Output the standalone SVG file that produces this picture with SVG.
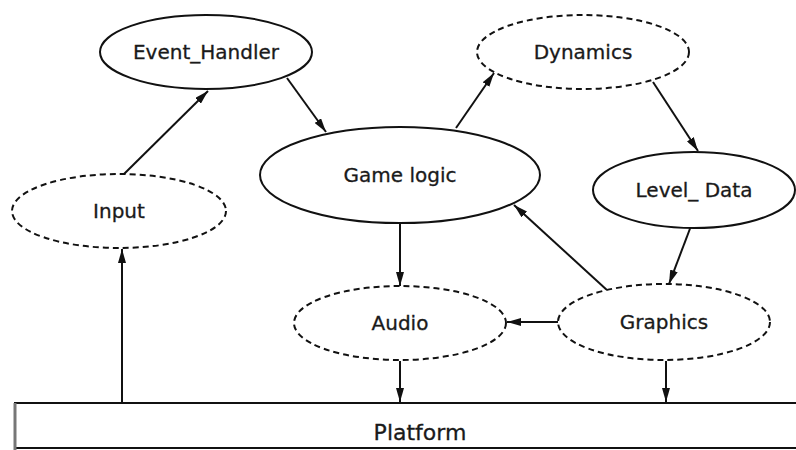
<svg xmlns="http://www.w3.org/2000/svg" width="796" height="450" viewBox="0 0 796 450">
<style>
.n{fill:#fff;stroke:#111;stroke-width:2}
.d{stroke-dasharray:6 4}
.t{font-family:"DejaVu Sans","Liberation Sans",sans-serif;font-size:20px;fill:#1a1a1a;text-anchor:middle;stroke:#1a1a1a;stroke-width:0.3}
.c{stroke:#111;stroke-width:2;fill:none;marker-end:url(#a)}
</style>
<defs>
<marker id="a" markerWidth="14" markerHeight="8" refX="14" refY="4" orient="auto" markerUnits="userSpaceOnUse" viewBox="0 0 14 8">
<path d="M0,0 L14,4 L0,8 Z" fill="#111"/>
</marker>
</defs>
<rect width="796" height="450" fill="#fff"/>
<g id="connectors">
<line class="c" x1="123" y1="175" x2="208" y2="91"/>
<line class="c" x1="287" y1="78" x2="326" y2="132"/>
<line class="c" x1="456" y1="128" x2="494" y2="73"/>
<line class="c" x1="653" y1="82" x2="698" y2="151"/>
<line class="c" x1="691" y1="226" x2="669" y2="284"/>
<line class="c" x1="608" y1="291" x2="514" y2="205"/>
<line class="c" x1="558" y1="322" x2="507" y2="322"/>
<line class="c" x1="400" y1="223" x2="400" y2="286"/>
<line class="c" x1="400" y1="361" x2="400" y2="402"/>
<line class="c" x1="666" y1="361" x2="666" y2="402"/>
<line class="c" x1="122" y1="403" x2="122" y2="249"/>
</g>
<g id="platform">
<rect class="n" x="15" y="403" width="790" height="45"/>
<line x1="15" y1="403" x2="15" y2="450" stroke="#777" stroke-width="3"/>
<text class="t" x="420" y="440" style="font-size:22px">Platform</text>
</g>
<g id="event_handler">
<ellipse class="n" cx="206" cy="52" rx="106" ry="37"/>
<text class="t" x="206" y="59">Event_Handler</text>
</g>
<g id="input">
<ellipse class="n d" cx="119" cy="211" rx="107" ry="37"/>
<text class="t" x="119" y="218">Input</text>
</g>
<g id="game_logic">
<ellipse class="n" cx="400" cy="175" rx="140" ry="48"/>
<text class="t" x="400" y="182">Game logic</text>
</g>
<g id="dynamics">
<ellipse class="n d" cx="583" cy="52" rx="106" ry="37"/>
<text class="t" x="583" y="59">Dynamics</text>
</g>
<g id="level_data">
<ellipse class="n" cx="694" cy="190" rx="101" ry="38"/>
<text class="t" x="694" y="197">Level_ Data</text>
</g>
<g id="audio">
<ellipse class="n d" cx="400" cy="323" rx="106" ry="37"/>
<text class="t" x="400" y="330">Audio</text>
</g>
<g id="graphics">
<ellipse class="n d" cx="664" cy="322" rx="106" ry="38"/>
<text class="t" x="664" y="329">Graphics</text>
</g>
</svg>
